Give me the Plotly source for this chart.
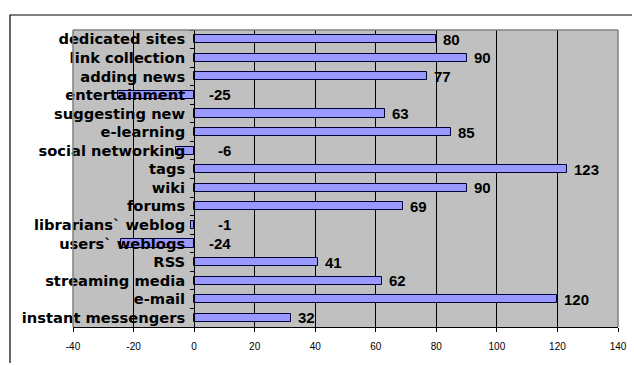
import plotly.graph_objects as go

# Categories listed top to bottom, with their scores
categories = [
    "dedicated sites", "link collection", "adding news", "entertainment",
    "suggesting new", "e-learning", "social networking", "tags", "wiki",
    "forums", "librarians` weblog", "users` weblogs", "RSS",
    "streaming media", "e-mail", "instant messengers",
]
values = [80, 90, 77, -25, 63, 85, -6, 123, 90, 69, -1, -24, 41, 62, 120, 32]

x_ticks = [-40, -20, 0, 20, 40, 60, 80, 100, 120, 140]
x_min, x_max = x_ticks[0], x_ticks[-1]

W, H = 634, 365
ML, MR, MT, MB = 73, 16, 30, 38

fig = go.Figure(
    go.Bar(
        y=categories,
        x=values,
        orientation="h",
        width=0.435,
        marker=dict(color="#9999FF", line=dict(color="#000033", width=1)),
        hoverinfo="x+y",
    )
)

# Value labels: right of the bar end for positives, just right of zero for negatives
label_font = dict(family="Liberation Sans, Arial, sans-serif", size=15, color="black", weight="bold")
for cat, v in zip(categories, values):
    if v >= 0:
        fig.add_annotation(x=v, y=cat, text=str(v), showarrow=False,
                           xanchor="left", yanchor="middle", xshift=5, font=label_font)
    else:
        fig.add_annotation(x=0, y=cat, text=str(v), showarrow=False,
                           xanchor="right", yanchor="middle", xshift=39, font=label_font)

# Plot-area border (grey) on the left, right and top edges
border = dict(color="#808080", width=1.5)
for x0, x1, y0, y1 in [(0, 0, 0, 1), (1, 1, 0, 1), (0, 1, 1, 1)]:
    fig.add_shape(type="line", xref="x domain", yref="y domain",
                  x0=x0, x1=x1, y0=y0, y1=y1, line=border, layer="above")

# Outer chart frame: left and top edges as one open path (paper units)
plot_w, plot_h = W - ML - MR, H - MT - MB
fx0 = (10 - ML) / plot_w
fx1 = (W - 2 - ML) / plot_w
fy_top = (H - MB - 15) / plot_h
fy_bot = -(MB - 2) / plot_h
fig.add_shape(type="path", xref="paper", yref="paper",
              path=f"M {fx0},{fy_bot} L {fx0},{fy_top} L {fx1},{fy_top}",
              line=dict(color="black", width=1.2))

fig.update_layout(
    width=W, height=H,
    margin=dict(l=ML, r=MR, t=MT, b=MB, pad=0, autoexpand=False),
    paper_bgcolor="white",
    plot_bgcolor="#C0C0C0",
    showlegend=False,
    bargap=0,
    xaxis=dict(
        range=[x_min, x_max],
        tickvals=x_ticks,
        ticktext=[str(t) for t in x_ticks],
        showgrid=True, gridcolor="#000000", gridwidth=1,
        zeroline=False,
        showline=True, linecolor="#000000", linewidth=1,
        ticks="outside", ticklen=4, tickcolor="#000000",
        tickfont=dict(family="Liberation Sans, Arial, sans-serif", size=10, color="black"),
        ticklabelstandoff=6,
        automargin=False,
        fixedrange=True,
    ),
    yaxis=dict(
        type="category",
        categoryorder="array", categoryarray=categories,
        range=[len(categories) - 0.5, -0.5],
        anchor="free",
        position=(0 - x_min) / (x_max - x_min),
        showline=True, linecolor="#000000", linewidth=1,
        ticks="outside", ticklen=4, tickcolor="#000000", tickson="boundaries",
        showgrid=False,
        tickfont=dict(family="DejaVu Sans, sans-serif", size=14.7, color="black", weight="bold"),
        ticklabelstandoff=6,
        automargin=False,
        layer="above traces",
        fixedrange=True,
    ),
)

fig.write_html("out.html", config={"displayModeBar": False})
